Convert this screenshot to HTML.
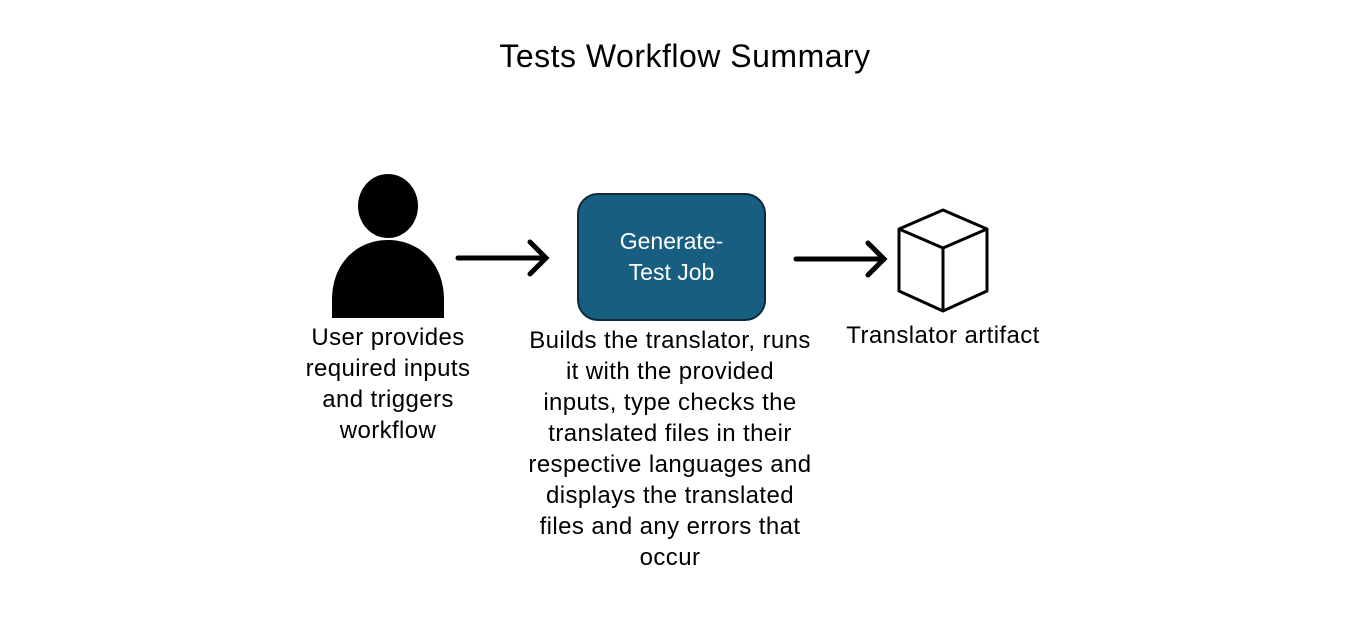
<!DOCTYPE html>
<html><head><style>
body{margin:0;width:1371px;height:634px;background:#fff;position:relative;font-family:"Liberation Sans",sans-serif;overflow:hidden}
.t{position:absolute;text-align:center;color:#000;font-size:24px;letter-spacing:0.4px;line-height:31px;white-space:nowrap}
</style></head><body>
<div class="t" style="left:385px;top:36px;width:600px;font-size:32px;letter-spacing:0.5px;line-height:40px">Tests Workflow Summary</div>
<svg width="1371" height="634" style="position:absolute;left:0;top:0">
<ellipse cx="388" cy="206" rx="30" ry="32" fill="#000"/>
<path d="M332 318 L332 300 C332 262 358 240 388 240 C418 240 444 262 444 300 L444 318 Z" fill="#000"/>
<rect x="578" y="194" width="187" height="126" rx="20" fill="#175E80" stroke="#0d2a38" stroke-width="2"/>
<g stroke="#000" stroke-width="5" stroke-linecap="round" fill="none">
<line x1="458" y1="258" x2="545" y2="258"/><polyline points="530,242 546,258 530,274"/>
<line x1="796" y1="259" x2="883" y2="259"/><polyline points="868,243 884,259 868,275"/>
</g>
<g stroke="#000" stroke-width="3" fill="none" stroke-linejoin="round">
<polygon points="943,210 987,229 987,291 943,311 899,291 899,229"/>
<polyline points="899,229 943,248 987,229"/><line x1="943" y1="248" x2="943" y2="311"/>
</g>
</svg>
<div class="t" style="left:578px;top:226px;width:187px;color:#fff;font-size:23px;letter-spacing:0">Generate-<br>Test Job</div>
<div class="t" style="left:278px;top:322px;width:220px">User provides<br>required inputs<br>and triggers<br>workflow</div>
<div class="t" style="left:500px;top:325px;width:340px">Builds the translator, runs<br>it with the provided<br>inputs, type checks the<br>translated files in their<br>respective languages and<br>displays the translated<br>files and any errors that<br>occur</div>
<div class="t" style="left:823px;top:320px;width:240px">Translator artifact</div>
</body></html>
